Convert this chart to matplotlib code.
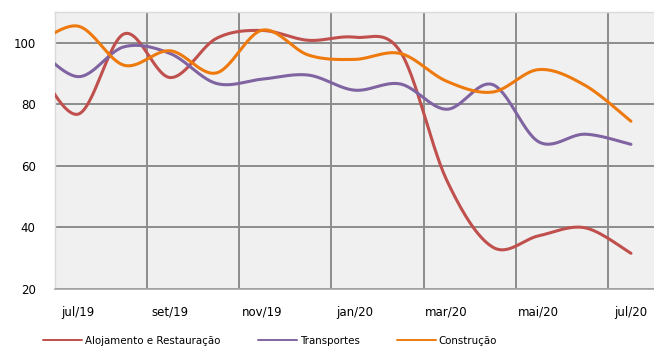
import numpy as np
import matplotlib.pyplot as plt

# jun/19 .. jul/20 (jun/19 sits just outside the visible range)
meses = ['jun/19', 'jul/19', 'ago/19', 'set/19', 'out/19', 'nov/19', 'dez/19',
         'jan/20', 'fev/20', 'mar/20', 'abr/20', 'mai/20', 'jun/20', 'jul/20']
alojamento = [95.5, 76.8, 102.9, 88.7, 101.4, 104.0, 100.8,
              101.8, 97.0, 55.4, 33.6, 37.3, 39.9, 31.6]
transportes = [100.0, 89.0, 98.7, 96.5, 86.8, 88.2, 89.5,
               84.6, 86.6, 78.4, 86.4, 67.8, 70.3, 67.0]
construcao = [98.5, 105.4, 92.7, 97.4, 90.2, 104.1, 96.0,
              94.6, 96.5, 87.5, 84.0, 91.3, 86.2, 74.5]

series = [('Alojamento e Restauração', alojamento, '#C0504D'),
          ('Transportes', transportes, '#8064A2'),
          ('Construção', construcao, '#EE7A0E')]


def suavizar(x, y, n=30):
    # cubic bezier through every point (Catmull-Rom tangents), like a "smoothed line"
    x = np.asarray(x, float)
    y = np.asarray(y, float)
    P = np.column_stack([x, y])
    Pp = np.vstack([P[0], P, P[-1]])
    out = []
    t = np.linspace(0, 1, n)[:, None]
    for i in range(len(P) - 1):
        p0, p3 = P[i], P[i + 1]
        p1 = p0 + (Pp[i + 2] - Pp[i]) / 6
        p2 = p3 - (Pp[i + 3] - Pp[i + 1]) / 6
        seg = ((1 - t) ** 3 * p0 + 3 * (1 - t) ** 2 * t * p1
               + 3 * (1 - t) * t ** 2 * p2 + t ** 3 * p3)
        out.append(seg if i == 0 else seg[1:])
    out = np.vstack(out)
    return out[:, 0], out[:, 1]


plt.rcParams['font.family'] = ['DejaVu Sans']
fig = plt.figure(figsize=(6.54, 3.46), dpi=100)
ax = fig.add_axes([55 / 654, 1 - 289 / 346, 599 / 654, 277 / 346])
ax.set_facecolor('#F0F0F0')

x = np.arange(len(meses)) - 1
for nome, vals, cor in series:
    xs, ys = suavizar(x, vals)
    ax.plot(xs, ys, color=cor, lw=2.2, label=nome, solid_capstyle='round', zorder=3)

ax.set_xlim(-0.5, 12.5)
ax.set_ylim(20, 110)
ax.set_yticks([20, 40, 60, 80, 100])
ax.set_xticks(x[1::2])
ax.set_xticklabels(meses[1::2])
ax.set_xticks(np.arange(-0.5, 12.5, 2), minor=True)

ax.grid(True, axis='y', color='#8C8C8C', lw=1.4)
ax.grid(True, axis='x', which='minor', color='#8C8C8C', lw=1.4)
ax.set_axisbelow(True)
ax.tick_params(which='both', length=0, labelsize=8.5, colors='black')
ax.tick_params(axis='x', pad=12)
ax.tick_params(axis='y', pad=14)

for s in ['top', 'left']:
    ax.spines[s].set_color('#D9D9D9')
    ax.spines[s].set_linewidth(1)
ax.spines['right'].set_visible(False)
ax.spines['bottom'].set_color('#A6A6A6')
ax.spines['bottom'].set_linewidth(1.2)

leg = fig.legend(loc='center left', bbox_to_anchor=(38 / 654, 1 - 341 / 346), ncol=3,
                 frameon=False, fontsize=7.4, handlelength=3.8, handletextpad=0.3,
                 columnspacing=3.6, borderpad=0)
for h in leg.get_lines():
    h.set_linewidth(1.4)

fig.savefig('out.png', dpi=100)
